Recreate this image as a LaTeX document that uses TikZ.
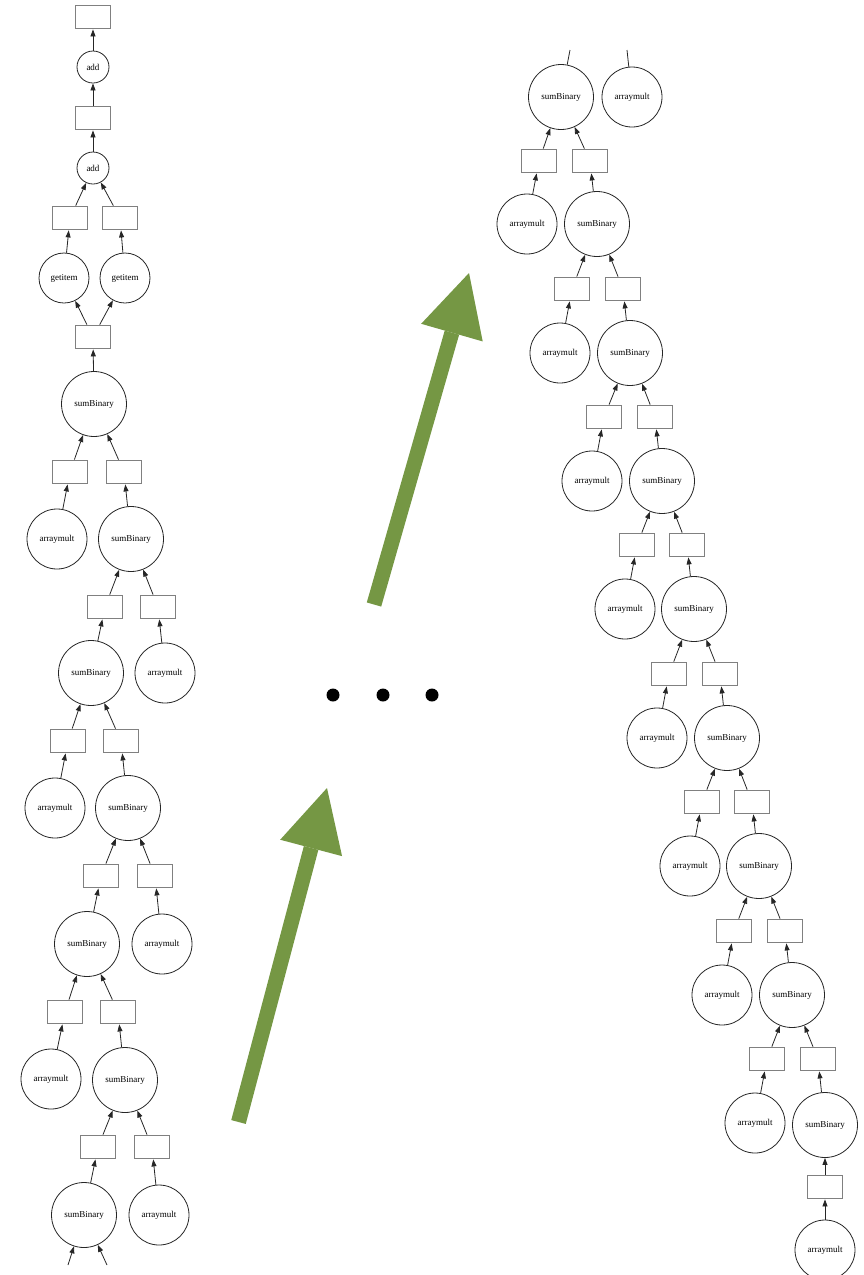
\documentclass[tikz,border=0pt]{standalone}
\usepackage{fontspec}
\setmainfont{Liberation Serif}
\usepackage{tikz}
\usetikzlibrary{arrows.meta}
\definecolor{progress}{RGB}{117,151,68}
\newcommand\taskfont{\fontsize{9}{10.5}\selectfont}
\tikzset{
  buffer/.style={rectangle,draw=black!50,line width=1.8pt,
                 minimum width=35pt,minimum height=23pt,inner sep=0pt},
  task/.style={circle,draw=black!85,line width=0.8pt,inner sep=0pt,font=\taskfont},
  sumop/.style={task,minimum size=65pt},
  multop/.style={task,minimum size=60pt},
  getop/.style={task,minimum size=50pt},
  addop/.style={task,minimum size=32pt},
  depflow/.style={line width=0.8pt,draw=black!85,-{Triangle[length=7pt,width=5pt]}},
  depline/.style={line width=0.8pt,draw=black!85},
  stepflow/.style={line width=15pt,draw=progress,
                   -{Triangle[length=62pt,width=64pt,line width=0pt]}},
  ellipsis/.style={circle,fill=black,minimum size=13pt,inner sep=0pt},
}

\begin{document}
\begin{tikzpicture}[x=1pt,y=-1pt]
    \useasboundingbox (0,0) rectangle (864,1275);

    % Left graph: final additions
    \node[buffer] (out)  at (93,17)   {};
    \node[addop]  (add1) at (93,67)   {add};
    \node[buffer] (b1)   at (93,118)  {};
    \node[addop]  (add2) at (93,168)  {add};
    \node[buffer] (b2l)  at (70,218)  {};
    \node[buffer] (b2r)  at (120,218) {};
    \node[getop]  (get1) at (64,278)  {getitem};
    \node[getop]  (get2) at (125,278) {getitem};
    \node[buffer] (b3)   at (93,337)  {};

    \draw[depflow] (add1) -- (out);
    \draw[depflow] (b1) -- (add1);
    \draw[depflow] (add2) -- (b1);
    \draw[depflow] (b2l) -- (add2);
    \draw[depflow] (b2r) -- (add2);
    \draw[depflow] (get1) -- (b2l);
    \draw[depflow] (get2) -- (b2r);
    \draw[depflow] (b3) -- (get1);
    \draw[depflow] (b3) -- (get2);

    % Left graph: reduction chain
    \node[sumop]  (ls1)  at (94,404)   {sumBinary};
    \node[buffer] (lb1a) at (70,472)   {};
    \node[buffer] (lb1b) at (124,472)  {};
    \node[multop] (lm1)  at (57,539)   {arraymult};
    \node[sumop]  (ls2)  at (131,539)  {sumBinary};
    \node[buffer] (lb2a) at (105,607)  {};
    \node[buffer] (lb2b) at (158,607)  {};
    \node[sumop]  (ls3)  at (91,673)   {sumBinary};
    \node[multop] (lm2)  at (165,673)  {arraymult};
    \node[buffer] (lb3a) at (68,741)   {};
    \node[buffer] (lb3b) at (121,741)  {};
    \node[multop] (lm3)  at (55,808)   {arraymult};
    \node[sumop]  (ls4)  at (128,808)  {sumBinary};
    \node[buffer] (lb4a) at (101,876)  {};
    \node[buffer] (lb4b) at (155,876)  {};
    \node[sumop]  (ls5)  at (87,944)   {sumBinary};
    \node[multop] (lm4)  at (162,944)  {arraymult};
    \node[buffer] (lb5a) at (65,1012)  {};
    \node[buffer] (lb5b) at (118,1012) {};
    \node[multop] (lm5)  at (51,1079)  {arraymult};
    \node[sumop]  (ls6)  at (125,1080) {sumBinary};
    \node[buffer] (lb6a) at (98,1147)  {};
    \node[buffer] (lb6b) at (152,1147) {};
    \node[sumop]  (ls7)  at (84,1215)  {sumBinary};
    \node[multop] (lm6)  at (159,1215) {arraymult};
    \coordinate (lcut1) at (68,1265);
    \coordinate (lcut2) at (107,1265);

    \draw[depflow] (ls1) -- (b3);
    \draw[depflow] (lb1a) -- (ls1);
    \draw[depflow] (lb1b) -- (ls1);
    \draw[depflow] (lm1) -- (lb1a);
    \draw[depflow] (ls2) -- (lb1b);
    \draw[depflow] (lb2a) -- (ls2);
    \draw[depflow] (lb2b) -- (ls2);
    \draw[depflow] (ls3) -- (lb2a);
    \draw[depflow] (lm2) -- (lb2b);
    \draw[depflow] (lb3a) -- (ls3);
    \draw[depflow] (lb3b) -- (ls3);
    \draw[depflow] (lm3) -- (lb3a);
    \draw[depflow] (ls4) -- (lb3b);
    \draw[depflow] (lb4a) -- (ls4);
    \draw[depflow] (lb4b) -- (ls4);
    \draw[depflow] (ls5) -- (lb4a);
    \draw[depflow] (lm4) -- (lb4b);
    \draw[depflow] (lb5a) -- (ls5);
    \draw[depflow] (lb5b) -- (ls5);
    \draw[depflow] (lm5) -- (lb5a);
    \draw[depflow] (ls6) -- (lb5b);
    \draw[depflow] (lb6a) -- (ls6);
    \draw[depflow] (lb6b) -- (ls6);
    \draw[depflow] (ls7) -- (lb6a);
    \draw[depflow] (lm6) -- (lb6b);
    \draw[depflow] (lcut1) -- (ls7);
    \draw[depflow] (lcut2) -- (ls7);

    % Progress arrows and ellipsis
    \coordinate (tail1) at (238.5,1122);
    \coordinate (head1) at (327,788);
    \coordinate (tail2) at (374,604.5);
    \coordinate (head2) at (469,273);
    \draw[stepflow] (tail1) -- (head1);
    \draw[stepflow] (tail2) -- (head2);
    \node[ellipsis] (dot1) at (333,695) {};
    \node[ellipsis] (dot2) at (383,695) {};
    \node[ellipsis] (dot3) at (432,695) {};

    % Right graph: start of the reduction chain
    \coordinate (rcut1) at (570,50);
    \coordinate (rcut2) at (627,50);
    \node[sumop]  (rs1)  at (561,97)   {sumBinary};
    \node[multop] (rm1)  at (632,97)   {arraymult};
    \node[buffer] (rb1a) at (539,161)  {};
    \node[buffer] (rb1b) at (590,161)  {};
    \node[multop] (rm2)  at (527,224)  {arraymult};
    \node[sumop]  (rs2)  at (597,224)  {sumBinary};
    \node[buffer] (rb2a) at (572,289)  {};
    \node[buffer] (rb2b) at (623,289)  {};
    \node[multop] (rm3)  at (560,353)  {arraymult};
    \node[sumop]  (rs3)  at (630,353)  {sumBinary};
    \node[buffer] (rb3a) at (604,417)  {};
    \node[buffer] (rb3b) at (655,417)  {};
    \node[multop] (rm4)  at (592,481)  {arraymult};
    \node[sumop]  (rs4)  at (662,481)  {sumBinary};
    \node[buffer] (rb4a) at (637,545)  {};
    \node[buffer] (rb4b) at (687,545)  {};
    \node[multop] (rm5)  at (625,609)  {arraymult};
    \node[sumop]  (rs5)  at (694,609)  {sumBinary};
    \node[buffer] (rb5a) at (669,674)  {};
    \node[buffer] (rb5b) at (720,674)  {};
    \node[multop] (rm6)  at (657,738)  {arraymult};
    \node[sumop]  (rs6)  at (727,738)  {sumBinary};
    \node[buffer] (rb6a) at (702,802)  {};
    \node[buffer] (rb6b) at (752,802)  {};
    \node[multop] (rm7)  at (690,866)  {arraymult};
    \node[sumop]  (rs7)  at (759,866)  {sumBinary};
    \node[buffer] (rb7a) at (734,931)  {};
    \node[buffer] (rb7b) at (785,931)  {};
    \node[multop] (rm8)  at (722,995)  {arraymult};
    \node[sumop]  (rs8)  at (792,995)  {sumBinary};
    \node[buffer] (rb8a) at (767,1059) {};
    \node[buffer] (rb8b) at (818,1059) {};
    \node[multop] (rm9)  at (755,1123) {arraymult};
    \node[sumop]  (rs9)  at (825,1125) {sumBinary};
    \node[buffer] (rb9)  at (825,1187) {};
    \node[multop] (rm10) at (825,1250) {arraymult};

    \draw[depline] (rs1) -- (rcut1);
    \draw[depline] (rm1) -- (rcut2);
    \draw[depflow] (rb1a) -- (rs1);
    \draw[depflow] (rb1b) -- (rs1);
    \draw[depflow] (rm2) -- (rb1a);
    \draw[depflow] (rs2) -- (rb1b);
    \draw[depflow] (rb2a) -- (rs2);
    \draw[depflow] (rb2b) -- (rs2);
    \draw[depflow] (rm3) -- (rb2a);
    \draw[depflow] (rs3) -- (rb2b);
    \draw[depflow] (rb3a) -- (rs3);
    \draw[depflow] (rb3b) -- (rs3);
    \draw[depflow] (rm4) -- (rb3a);
    \draw[depflow] (rs4) -- (rb3b);
    \draw[depflow] (rb4a) -- (rs4);
    \draw[depflow] (rb4b) -- (rs4);
    \draw[depflow] (rm5) -- (rb4a);
    \draw[depflow] (rs5) -- (rb4b);
    \draw[depflow] (rb5a) -- (rs5);
    \draw[depflow] (rb5b) -- (rs5);
    \draw[depflow] (rm6) -- (rb5a);
    \draw[depflow] (rs6) -- (rb5b);
    \draw[depflow] (rb6a) -- (rs6);
    \draw[depflow] (rb6b) -- (rs6);
    \draw[depflow] (rm7) -- (rb6a);
    \draw[depflow] (rs7) -- (rb6b);
    \draw[depflow] (rb7a) -- (rs7);
    \draw[depflow] (rb7b) -- (rs7);
    \draw[depflow] (rm8) -- (rb7a);
    \draw[depflow] (rs8) -- (rb7b);
    \draw[depflow] (rb8a) -- (rs8);
    \draw[depflow] (rb8b) -- (rs8);
    \draw[depflow] (rm9) -- (rb8a);
    \draw[depflow] (rs9) -- (rb8b);
    \draw[depflow] (rb9) -- (rs9);
    \draw[depflow] (rm10) -- (rb9);
\end{tikzpicture}
\end{document}
